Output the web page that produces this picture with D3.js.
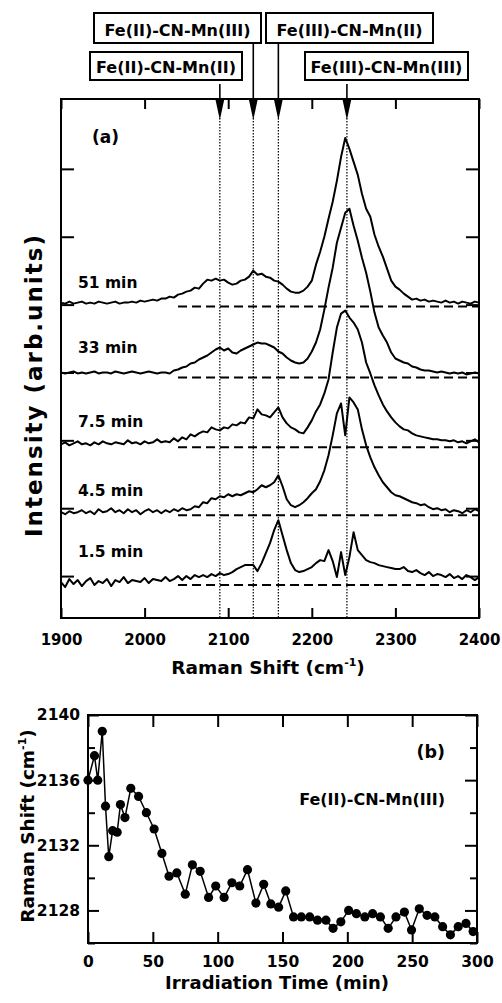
<!DOCTYPE html>
<html>
<head>
<meta charset="utf-8">
<script src="https://cdn.jsdelivr.net/npm/d3@7"></script>
<style>
  body { margin: 0; background: #fff; }
  text { font-family: "DejaVu Sans", sans-serif; font-weight: bold; fill: #000; }
</style>
</head>
<body>
<svg width="502" height="1003"></svg>
<script>
// ---- panel (a) data: spectra sampled every 5 cm-1 from 1900 to 2400 ----
var shiftStart = 1900, shiftEnd = 2400, shiftStep = 5;
var traceNames = ["1.5 min", "4.5 min", "7.5 min", "33 min", "51 min"];
var traceBase = [3.3, 10.3, 17.1, 24.1, 31.2];   // vertical offset of each trace (arb.units)

var s1_5 = [0.3,-0.2,0.6,0.1,0.5,-0.1,0.4,0.7,0.0,0.4,0.2,0.6,-0.1,0.5,0.3,0.8,0.2,0.5,0.4,0.3,0.7,0.2,0.6,0.5,0.4,
  0.8,0.4,0.6,0.9,0.5,0.9,0.6,1.0,0.8,1.0,0.8,1.1,
  0.9,1.2,1.0,1.1,1.3,1.6,1.8,2.0,2.0,2.0,1.4,2.2,3.2,4.2,
  5.5,6.5,5.0,3.5,2.2,1.5,1.3,1.4,1.6,1.8,
  2.2,2.5,2.4,3.5,2.4,0.8,3.3,1.0,
  2.8,5.3,3.5,3.0,2.5,2.3,2.2,2.0,1.9,1.8,1.7,1.6,
  1.6,1.8,1.4,1.3,1.5,1.2,1.0,1.3,0.9,1.1,1.0,0.8,1.1,0.7,0.9,0.6,1.0,0.8,0.5,0.8];
var s4_5 = [0.3,0.1,0.4,0.2,0.3,0.5,0.2,0.4,0.1,0.6,0.3,0.4,0.7,0.3,0.5,0.2,0.6,0.3,0.5,0.1,0.4,0.6,0.3,0.5,0.2,
  0.5,0.3,0.6,0.4,0.7,0.5,0.6,0.9,0.8,1.3,1.2,1.7,
  1.6,1.9,1.8,2.1,1.9,2.1,2.0,2.2,2.4,2.3,2.6,3.0,2.8,3.0,
  3.3,4.0,2.9,1.6,1.0,0.8,1.0,1.3,1.7,2.2,
  2.6,3.4,4.5,6.0,8.0,10.2,11.2,8.0,
  11.8,11.3,10.6,8.6,7.0,5.8,4.8,4.0,3.3,2.8,2.3,2.0,
  1.9,1.7,1.5,1.3,1.2,1.0,1.1,0.8,0.6,0.7,0.5,0.6,0.3,0.5,0.4,0.2,0.5,0.3,0.6,0.4];
var s7_5 = [0.3,0.5,0.2,0.4,0.6,0.3,0.4,0.2,0.5,0.3,0.6,0.4,0.3,0.5,0.4,0.3,0.7,0.4,0.5,0.3,0.6,0.4,0.5,0.8,0.5,
  0.6,0.5,0.9,0.6,1.0,0.8,1.3,1.1,1.4,1.6,1.5,2.0,
  1.8,1.7,2.0,1.9,2.3,2.2,2.5,2.4,3.0,2.9,3.8,3.3,3.2,3.0,
  3.5,4.0,3.0,2.4,2.0,1.8,1.5,1.4,2.0,2.7,
  3.6,4.3,5.4,6.8,9.5,12.0,13.4,13.7,
  13.0,12.5,11.8,10.5,8.5,7.4,6.2,5.2,4.3,3.6,3.0,2.5,
  2.1,1.8,1.7,1.4,1.2,1.1,1.0,0.9,0.8,0.8,0.7,0.7,0.6,0.7,0.5,0.6,0.4,0.6,0.8,0.5];
var s33 = [0.5,0.4,0.5,0.6,0.4,0.5,0.4,0.5,0.6,0.4,0.5,0.5,0.4,0.6,0.5,0.4,0.5,0.6,0.5,0.4,0.5,0.6,0.5,0.4,0.5,
  0.5,0.4,0.7,0.8,1.0,1.1,1.4,1.5,1.8,2.0,2.2,2.5,
  2.8,3.0,2.7,2.9,2.5,2.4,2.7,2.9,3.1,3.3,3.5,3.4,3.4,3.2,
  3.0,2.6,2.4,2.0,1.7,1.5,1.4,1.5,1.9,2.6,
  3.5,4.8,6.8,9.0,11.0,13.5,15.0,16.5,
  16.9,15.2,13.7,12.0,10.5,8.6,6.5,5.0,4.2,3.5,2.5,1.9,
  1.7,1.5,1.4,1.1,1.0,0.8,0.7,0.7,0.6,0.5,0.6,0.5,0.4,0.5,0.4,0.5,0.3,0.4,0.5,0.4];
var s51 = [0.4,0.3,0.5,0.3,0.4,0.5,0.3,0.4,0.3,0.5,0.4,0.3,0.4,0.5,0.3,0.4,0.4,0.5,0.4,0.6,0.5,0.6,0.7,0.6,0.8,
  0.8,1.0,0.9,1.2,1.3,1.5,1.6,1.9,1.8,2.3,2.7,2.6,
  2.8,2.6,2.7,2.4,2.2,2.3,2.6,2.7,3.0,3.6,3.2,3.3,3.0,2.9,
  2.6,2.5,2.2,1.8,1.5,1.4,1.4,1.6,2.0,2.6,
  4.2,5.5,7.0,8.8,10.5,12.6,15.0,16.9,
  15.8,14.5,13.2,11.3,9.8,9.0,7.2,6.0,5.0,3.8,2.6,2.0,
  1.7,1.3,1.0,0.7,0.8,0.6,0.7,0.5,0.6,0.5,0.4,0.6,0.4,0.5,0.3,0.5,0.4,0.3,0.5,0.4];
var spectra = [s1_5, s4_5, s7_5, s33, s51];

var yTicksA = [4.2, 11.0, 17.8, 24.6, 31.4, 38.2, 45.0];
var xTicksA = [1900, 2000, 2100, 2200, 2300, 2400];

// marked bands
var peakShift = [2090, 2130, 2160, 2242];
var peakName = ["Fe(II)-CN-Mn(II)", "Fe(II)-CN-Mn(III)", "Fe(III)-CN-Mn(II)", "Fe(III)-CN-Mn(III)"];

// ---- panel (b) data ----
var irrTime = [0, 5, 7.5, 11, 13.5, 16, 19, 22.5, 25, 28.5, 33, 39, 45, 51, 57, 62.5, 68.5, 75, 80.5, 86.5,
  93, 98.5, 105, 111, 117, 123, 129.5, 135.5, 141, 147, 152.5, 158.5, 164.5, 171, 177, 183.5, 189, 195, 201, 207,
  213.5, 219.5, 225.5, 231.5, 237.5, 244, 249.5, 255.5, 261.5, 267.5, 273.5, 279.5, 285.5, 291.5, 297];
var peakPos = [2136.0, 2137.5, 2136.0, 2139.0, 2134.4, 2131.3, 2132.9, 2132.8, 2134.5, 2133.7, 2135.5, 2135.0, 2134.0,
  2133.0, 2131.5, 2130.1, 2130.3, 2129.0, 2130.8, 2130.4, 2128.8, 2129.5, 2128.8, 2129.7, 2129.5, 2130.5, 2128.45,
  2129.6, 2128.4, 2128.2, 2129.2, 2127.6, 2127.6, 2127.6, 2127.4, 2127.4, 2126.9, 2127.3, 2128.0, 2127.8, 2127.6,
  2127.8, 2127.6, 2126.9, 2127.6, 2127.9, 2126.8, 2128.1, 2127.7, 2127.6, 2127.0, 2126.5, 2127.0, 2127.2, 2126.7];
var xTicksB = [0, 50, 100, 150, 200, 250, 300];
var yTicksB = [2128, 2132, 2136, 2140];
var yMinorB = [2126, 2130, 2134, 2138];

var svg = d3.select("svg");

// ===================== panel (a) =====================
var xA = d3.scaleLinear().domain([shiftStart, shiftEnd]).range([61, 479]);
var yA = d3.scaleLinear().domain([0, 52]).range([618, 99]);
var grid = d3.range(shiftStart, shiftEnd + 0.1, shiftStep);

var gA = svg.append("g");

// axes, ticks inward
gA.append("g").attr("transform", "translate(0,618)")
    .call(d3.axisBottom(xA).tickValues(xTicksA).tickSize(-10).tickPadding(16).tickFormat(d3.format("d")))
    .call(function (g) { g.select(".domain").remove(); });
gA.append("g").attr("transform", "translate(0,99)")
    .call(d3.axisTop(xA).tickValues(xTicksA).tickSize(-10).tickFormat(""))
    .call(function (g) { g.select(".domain").remove(); });
gA.append("g").attr("transform", "translate(61,0)")
    .call(d3.axisLeft(yA).tickValues(yTicksA).tickSize(-13).tickFormat(""))
    .call(function (g) { g.select(".domain").remove(); });
gA.append("g").attr("transform", "translate(479,0)")
    .call(d3.axisRight(yA).tickValues(yTicksA).tickSize(-13).tickFormat(""))
    .call(function (g) { g.select(".domain").remove(); });
gA.selectAll(".tick line").attr("stroke", "#000").attr("stroke-width", 2);
gA.selectAll(".tick text").attr("font-size", 15).attr("font-family", "DejaVu Sans").attr("font-weight", "bold");

// dotted band markers
gA.selectAll(".band").data(peakShift).enter().append("line")
    .attr("x1", function (d) { return xA(d); }).attr("x2", function (d) { return xA(d); })
    .attr("y1", 118).attr("y2", 617)
    .attr("stroke", "#000").attr("stroke-width", 1.2).attr("stroke-dasharray", "1.5,1.5");

// dashed baselines
gA.selectAll(".base").data(traceBase).enter().append("line")
    .attr("x1", xA(2040)).attr("x2", xA(2400))
    .attr("y1", function (d) { return yA(d); }).attr("y2", function (d) { return yA(d); })
    .attr("stroke", "#000").attr("stroke-width", 2).attr("stroke-dasharray", "9,5");

// spectra
spectra.forEach(function (vals, k) {
    var line = d3.line()
        .x(function (d, i) { return xA(grid[i]); })
        .y(function (d) { return yA(traceBase[k] + d); });
    gA.append("path").datum(vals)
        .attr("d", line)
        .attr("fill", "none").attr("stroke", "#000")
        .attr("stroke-width", 2).attr("stroke-linejoin", "round");
});

// trace labels
var labelLift = [28, 19, 20, 24, 19];
gA.selectAll(".tlab").data(traceNames).enter().append("text")
    .attr("x", 78)
    .attr("y", function (d, i) { return yA(traceBase[i]) - labelLift[i]; })
    .attr("font-size", 15.5)
    .text(function (d) { return d; });

// frame
gA.append("rect").attr("x", 61).attr("y", 99).attr("width", 418).attr("height", 519)
    .attr("fill", "none").attr("stroke", "#000").attr("stroke-width", 2);

gA.append("text").attr("x", 92).attr("y", 143).attr("font-size", 17).text("(a)");

// label boxes + arrows
var boxes = [
    {x: 90, y: 52, w: 152, h: 28, top: 84},
    {x: 94, y: 13, w: 167, h: 30, top: 43},
    {x: 266, y: 13, w: 167, h: 30, top: 43},
    {x: 305, y: 52, w: 163, h: 28, top: 84}
];
boxes.forEach(function (b, i) {
    var px = xA(peakShift[i]);
    gA.append("rect").attr("x", b.x).attr("y", b.y).attr("width", b.w).attr("height", b.h)
        .attr("fill", "#fff").attr("stroke", "#000").attr("stroke-width", 2);
    gA.append("text").attr("x", b.x + b.w / 2).attr("y", b.y + b.h - 7)
        .attr("text-anchor", "middle").attr("font-size", 16).text(peakName[i]);
    gA.append("line").attr("x1", px).attr("x2", px).attr("y1", b.top).attr("y2", 104)
        .attr("stroke", "#000").attr("stroke-width", 1.6);
    gA.append("path")
        .attr("d", "M" + (px - 4.5) + ",99L" + (px + 4.5) + ",99L" + px + ",120Z")
        .attr("fill", "#000");
});

// axis titles
var tA = gA.append("text").attr("x", 268).attr("y", 674).attr("text-anchor", "middle").attr("font-size", 18.5);
tA.append("tspan").text("Raman Shift (cm");
tA.append("tspan").attr("font-size", 11).attr("dy", -8).text("-1");
tA.append("tspan").attr("dy", 8).text(")");

gA.append("text")
    .attr("transform", "translate(42,385) rotate(-90)")
    .attr("text-anchor", "middle").attr("font-size", 23).attr("letter-spacing", 2)
    .text("Intensity (arb.units)");

// ===================== panel (b) =====================
var xB = d3.scaleLinear().domain([0, 300]).range([88, 477]);
var yB = d3.scaleLinear().domain([2126, 2140]).range([943, 715]);
var gB = svg.append("g");

gB.append("g").attr("transform", "translate(0,943)")
    .call(d3.axisBottom(xB).tickValues(xTicksB).tickSize(-11).tickPadding(13).tickFormat(d3.format("d")))
    .call(function (g) { g.select(".domain").remove(); });
gB.append("g").attr("transform", "translate(0,715)")
    .call(d3.axisTop(xB).tickValues(xTicksB).tickSize(-12).tickFormat(""))
    .call(function (g) { g.select(".domain").remove(); });
gB.append("g").attr("transform", "translate(88,0)")
    .call(d3.axisLeft(yB).tickValues(yTicksB).tickSize(-11).tickPadding(8).tickFormat(d3.format("d")))
    .call(function (g) { g.select(".domain").remove(); });
gB.append("g").attr("transform", "translate(88,0)")
    .call(d3.axisLeft(yB).tickValues(yMinorB).tickSize(-7).tickFormat(""))
    .call(function (g) { g.select(".domain").remove(); });
gB.append("g").attr("transform", "translate(477,0)")
    .call(d3.axisRight(yB).tickValues(yTicksB).tickSize(-12).tickFormat(""))
    .call(function (g) { g.select(".domain").remove(); });
gB.append("g").attr("transform", "translate(477,0)")
    .call(d3.axisRight(yB).tickValues(yMinorB).tickSize(-7).tickFormat(""))
    .call(function (g) { g.select(".domain").remove(); });
gB.selectAll(".tick line").attr("stroke", "#000").attr("stroke-width", 2);
gB.selectAll(".tick text").attr("font-size", 15.5).attr("font-family", "DejaVu Sans").attr("font-weight", "bold");

var ptsB = irrTime.map(function (t, i) { return [t, peakPos[i]]; });
gB.append("path").datum(ptsB)
    .attr("d", d3.line().x(function (d) { return xB(d[0]); }).y(function (d) { return yB(d[1]); }))
    .attr("fill", "none").attr("stroke", "#000").attr("stroke-width", 1.5);
gB.selectAll(".pt").data(ptsB).enter().append("circle")
    .attr("cx", function (d) { return xB(d[0]); })
    .attr("cy", function (d) { return yB(d[1]); })
    .attr("r", 4.6).attr("fill", "#000");

gB.append("rect").attr("x", 88).attr("y", 715).attr("width", 389).attr("height", 228)
    .attr("fill", "none").attr("stroke", "#000").attr("stroke-width", 2);

gB.append("text").attr("x", 445).attr("y", 758).attr("text-anchor", "end").attr("font-size", 17.5).text("(b)");
gB.append("text").attr("x", 445).attr("y", 805).attr("text-anchor", "end").attr("font-size", 16).text("Fe(II)-CN-Mn(III)");

gB.append("text").attr("x", 277).attr("y", 989).attr("text-anchor", "middle").attr("font-size", 18)
    .text("Irradiation Time (min)");

var tB = gB.append("text").attr("transform", "translate(34,826) rotate(-90)")
    .attr("text-anchor", "middle").attr("font-size", 18.5);
tB.append("tspan").text("Raman Shift (cm");
tB.append("tspan").attr("font-size", 11).attr("dy", -8).text("-1");
tB.append("tspan").attr("dy", 8).text(")");
</script>
</body>
</html>
